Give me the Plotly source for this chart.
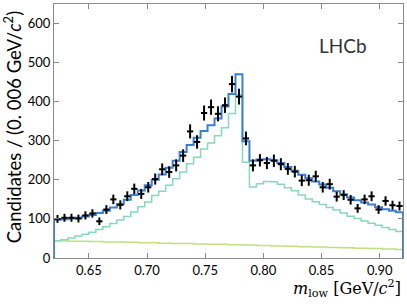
import numpy as np
import plotly.graph_objects as go

x_min, x_max, bin_width = 0.62, 0.92, 0.006

data_counts = [100, 103, 103, 101, 109, 114, 94, 124, 150, 136,
               158, 177, 164, 181, 202, 227, 220, 237, 262, 324,
               297, 371, 386, 369, 391, 445, 413, 306, 237, 250,
               243, 249, 240, 228, 221, 198, 199, 209, 181, 189,
               157, 161, 149, 127, 150, 158, 124, 146, 135, 133]

total_fit = [98, 99, 101, 103, 106, 110, 115, 121, 129, 138,
             149, 161, 173, 186, 200, 214, 231, 249, 271, 289,
             308, 325, 340, 357, 388, 420, 470, 299, 249, 252,
             253, 250, 243, 233, 223, 213, 204, 196, 188, 180,
             171, 163, 155, 148, 142, 137, 130, 125, 121, 117]

signal_comp = [44, 47, 51, 56, 61, 66, 73, 80, 88, 97,
               106, 118, 131, 143, 160, 171, 186, 203, 220, 241,
               258, 279, 294, 313, 333, 370, 418, 245, 182, 190,
               196, 195, 189, 180, 172, 161, 151, 144, 137, 129,
               123, 115, 107, 101, 95, 89, 84, 78, 73, 68]

bkg_comp = [44, 44, 43, 43, 43, 42, 42, 41, 41, 41,
            40, 40, 39, 39, 39, 38, 38, 37, 37, 37,
            36, 36, 35, 35, 35, 34, 34, 33, 33, 32,
            32, 31, 31, 30, 30, 29, 29, 28, 28, 27,
            27, 26, 26, 25, 25, 24, 24, 23, 23, 22]

x_ticks = [0.65, 0.70, 0.75, 0.80, 0.85, 0.90]
x_tick_labels = ["0.65", "0.70", "0.75", "0.80", "0.85", "0.90"]
y_ticks = [0, 100, 200, 300, 400, 500, 600]

n = len(data_counts)
edges = [round(x_min + i * bin_width, 4) for i in range(n + 1)]
centers = [round(x_min + (i + 0.5) * bin_width, 4) for i in range(n)]


def step_trace(vals, color, width):
    xs = [edges[0]] + edges[:-1] + [edges[-1]]
    ys = [0] + list(vals) + [0]
    return go.Scatter(x=xs, y=ys, mode="lines", line=dict(shape="hv", color=color, width=width),
                      hoverinfo="skip", showlegend=False)


fig = go.Figure()
fig.add_trace(step_trace(bkg_comp, "#bfe27f", 1.5))
fig.add_trace(step_trace(signal_comp, "#86d9b9", 1.5))
fig.add_trace(step_trace(total_fit, "#3b7fd3", 2))
fig.add_trace(go.Scatter(
    x=centers, y=data_counts, mode="markers",
    marker=dict(size=1, color="black"),
    error_y=dict(type="data", array=list(np.sqrt(data_counts)), color="black", thickness=2, width=0),
    error_x=dict(type="constant", value=bin_width * 0.45, color="black", thickness=2, width=0),
    showlegend=False,
))

axis_common = dict(showline=True, linecolor="#8a8a8a", linewidth=1, mirror="ticks",
                   ticks="inside", tickcolor="#8a8a8a", ticklen=5, showgrid=False, zeroline=False,
                   tickfont=dict(family="Lato", size=13, color="black"))

fig.update_xaxes(range=[x_min, x_max], tickvals=x_ticks, ticktext=x_tick_labels, **axis_common)
fig.update_yaxes(range=[0, 650], tickvals=y_ticks, **axis_common)

fig.add_annotation(text="LHCb", xref="paper", yref="paper", x=0.827, y=0.835,
                   showarrow=False, font=dict(family="Lato", size=19, color="#333"),
                   xanchor="center", yanchor="middle")
fig.add_annotation(text="<i>m</i><sub>low</sub> [GeV/<i>c</i><sup>2</sup>]", xref="paper", yref="paper",
                   x=1.0, y=-0.122, showarrow=False, xanchor="right", yanchor="middle",
                   font=dict(family="DejaVu Serif", size=16, color="black"))
fig.add_annotation(text="Candidates / (0. 006 GeV/<i>c</i><sup>2</sup>)", xref="paper", yref="paper",
                   x=-0.12, y=0.515, textangle=-90, showarrow=False, xanchor="center", yanchor="middle",
                   font=dict(family="Lato", size=18.5, color="black"))

fig.update_layout(width=407, height=304, margin=dict(l=54, r=4, t=4, b=46),
                  plot_bgcolor="white", paper_bgcolor="white")

fig.write_html("out.html", config={"displayModeBar": False},
               post_script="document.body.style.margin='0';document.body.style.overflow='hidden';")
